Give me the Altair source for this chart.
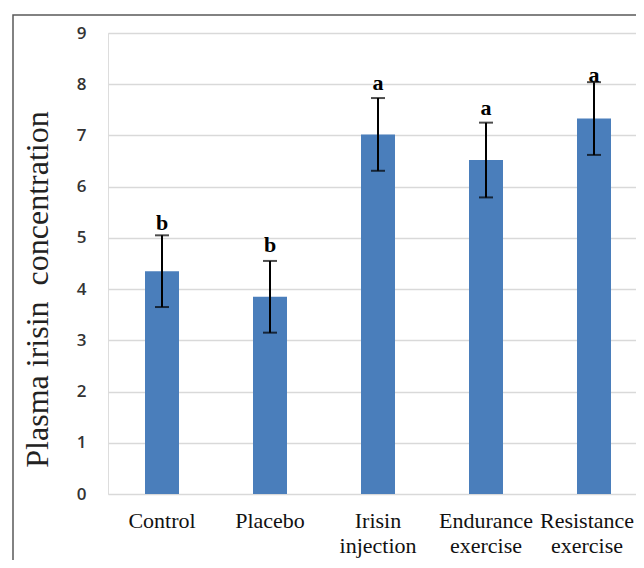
import altair as alt
import pandas as pd

groups = ["Control", "Placebo", "Irisin injection", "Endurance exercise", "Resistance exercise"]
means = [4.35, 3.85, 7.02, 6.52, 7.33]
sds = [0.70, 0.70, 0.71, 0.73, 0.71]
letters = ["b", "b", "a", "a", "a"]
letter_y = [5.16, 4.73, 7.89, 7.40, 8.05]

df = pd.DataFrame({
    "group": groups,
    "mean": means,
    "lo": [m - s for m, s in zip(means, sds)],
    "hi": [m + s for m, s in zip(means, sds)],
    "letter": letters,
    "ly": letter_y,
})

x_enc = alt.X(
    "group:N",
    sort=groups,
    scale=alt.Scale(paddingInner=0, paddingOuter=0, range=[0, 540]),
    axis=alt.Axis(
        title=None,
        labelExpr="split(datum.label, ' ')",
        labelOffset={
            "condition": {"test": "datum.value == 'Resistance exercise'", "value": -7},
            "value": 0,
        },
    ),
)

y_scale = alt.Scale(domain=[0, 9], nice=False)

base = alt.Chart(df).encode(x=x_enc)

bars = base.mark_bar(size=34, color="#4A7EBB").encode(
    y=alt.Y(
        "mean:Q",
        scale=y_scale,
        axis=alt.Axis(title="Plasma irisin\u00a0 concentration", values=list(range(10)), format="d"),
    )
)

rules = base.mark_rule(color="black", strokeWidth=2).encode(
    y=alt.Y("lo:Q", scale=y_scale), y2="hi:Q"
)
cap_lo = base.mark_tick(color="black", size=14, thickness=2, orient="horizontal").encode(
    y=alt.Y("lo:Q", scale=y_scale)
)
cap_hi = base.mark_tick(color="black", size=14, thickness=2, orient="horizontal").encode(
    y=alt.Y("hi:Q", scale=y_scale)
)
texts = base.mark_text(
    font="Liberation Serif", fontSize=22, fontWeight="bold", color="black",
    baseline="alphabetic", align="center",
).encode(y=alt.Y("ly:Q", scale=y_scale), text="letter:N")

frame = alt.Chart(pd.DataFrame({"f": [0]})).mark_rect(
    fillOpacity=0, stroke="#595959", strokeWidth=1.5
).encode(
    x=alt.value(-95), x2=alt.value(900), y=alt.value(-18), y2=alt.value(900)
)

chart = (
    alt.layer(frame, bars, rules, cap_lo, cap_hi, texts)
    .properties(
        width=528,
        height=461,
        autosize=alt.AutoSizeParams(type="none"),
        padding={"left": 100, "top": 25, "right": 0, "bottom": 66},
    )
    .configure_view(stroke=None)
    .configure(background="white")
    .configure_axisX(
        labelAngle=0,
        labelFont="Liberation Serif",
        labelFontSize=22,
        labelColor="#111111",
        labelLineHeight=25,
        labelPadding=16,
        domain=False,
        ticks=False,
        tickSize=0,
        grid=False,
    )
    .configure_axisY(
        labelFont="Open Sans",
        labelFontSize=17,
        labelFontWeight=600,
        labelColor="#333333",
        labelPadding=22,
        ticks=False,
        tickSize=0,
        domain=False,
        gridColor="#d9d9d9",
        gridWidth=1.5,
        titleFont="Liberation Serif",
        titleFontSize=32,
        titleFontWeight="normal",
        titleColor="#222222",
        titleX=-61,
        titleY=256,
        titleAlign="center",
        titleBaseline="alphabetic",
        titleAngle=270,
    )
)

chart.save("out.html", embed_options={"renderer": "svg", "actions": False})
